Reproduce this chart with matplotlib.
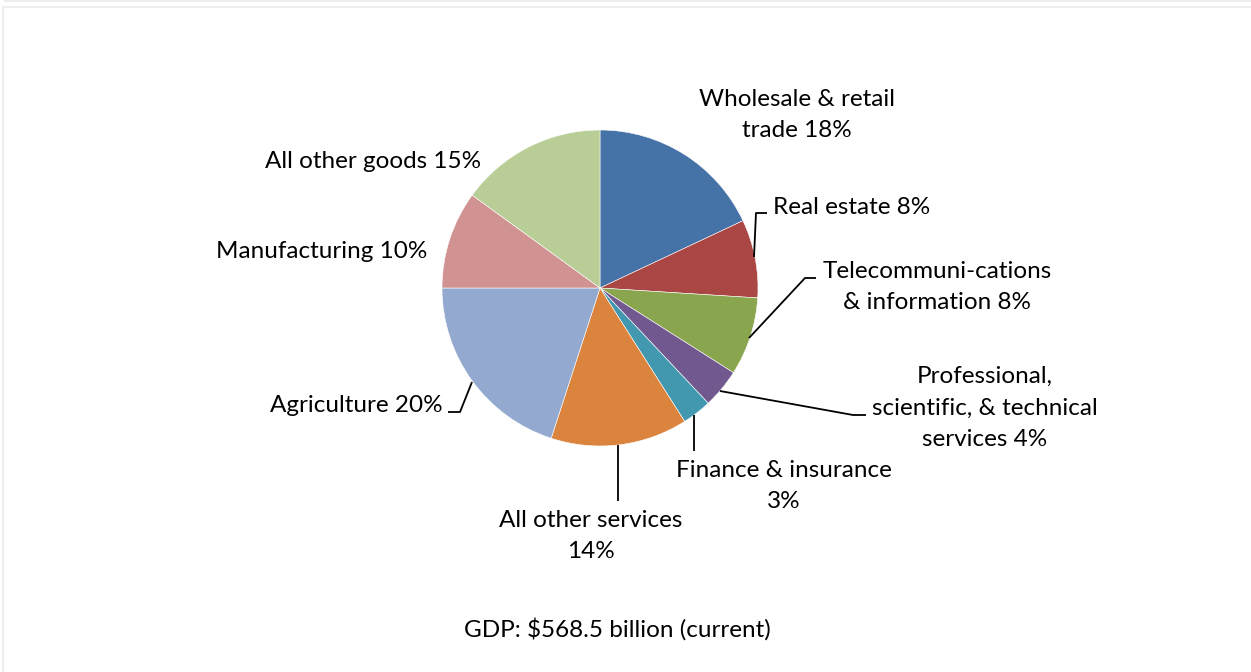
import numpy as np
import matplotlib
import matplotlib.pyplot as plt
from matplotlib.lines import Line2D

matplotlib.use('agg')

plt.rcParams['font.family'] = ['Lato', 'DejaVu Sans']

# GDP shares by sector (percent), clockwise from 12 o'clock
sectors = ['Wholesale & retail trade', 'Real estate', 'Telecommuni-cations & information',
           'Professional, scientific, & technical services', 'Finance & insurance',
           'All other services', 'Agriculture', 'Manufacturing', 'All other goods']
shares = [18, 8, 8, 4, 3, 14, 20, 10, 15]
colors = ['#4572A7', '#AA4643', '#89A54E', '#71588F', '#4198AF',
          '#DB843D', '#93A9CF', '#D19392', '#B9CD96']
label_text = [
    'Wholesale & retail\ntrade {}%',
    'Real estate {}%',
    'Telecommuni-cations\n& information {}%',
    'Professional,\nscientific, & technical\nservices {}%',
    'Finance & insurance\n{}%',
    'All other services\n{}%',
    'Agriculture {}%',
    'Manufacturing {}%',
    'All other goods {}%',
]
footnote = 'GDP: $568.5 billion (current)'

W, H = 1251, 672
fig = plt.figure(figsize=(W / 100, H / 100), dpi=100)
ax = fig.add_axes([0, 0, 1, 1])

cx, cy, r = 600, H - 288, 158
ax.pie(shares, colors=colors, startangle=90, counterclock=False,
       center=(cx, cy), radius=r,
       wedgeprops=dict(edgecolor='white', linewidth=0.4))

ax.set_xlim(0, W)
ax.set_ylim(0, H)
ax.set_aspect('equal')
ax.axis('off')

# label placement (x, y from top, alignment)
label_pos = [
    (797, 115, 'center'),
    (773, 208, 'left'),
    (937, 287, 'center'),
    (985, 408, 'center'),
    (784, 486, 'center'),
    (591, 536, 'center'),
    (443, 405, 'right'),
    (427, 252, 'right'),
    (481, 162, 'right'),
]
fs = 17.5
for txt, val, (x, y, ha) in zip(label_text, shares, label_pos):
    ax.text(x, H - y, txt.format(val), ha=ha, va='center', fontsize=fs,
            linespacing=1.62, color='black', multialignment='center')

# leader lines
leaders = [
    [(754, 257), (756, 213), (767, 213)],
    [(749, 338), (805, 278), (816, 278)],
    [(720, 391), (853, 415), (866, 415)],
    [(694, 415), (694, 451)],
    [(618, 445), (618, 501)],
    [(472, 382), (460, 412), (448, 412)],
]
for pts in leaders:
    xs = [p[0] for p in pts]
    ys = [H - p[1] for p in pts]
    ax.plot(xs, ys, color='black', lw=1.3, solid_capstyle='butt')

ax.text(617, H - 629, footnote, ha='center', va='center', fontsize=fs)

# outer frame
frame = '#EEEEEE'
fig.add_artist(Line2D([5 / W, 1], [1 - 0.5 / H, 1 - 0.5 / H], color=frame, lw=1.5))
fig.add_artist(Line2D([2.5 / W, 1], [1 - 7 / H, 1 - 7 / H], color=frame, lw=1.5))
fig.add_artist(Line2D([2.5 / W, 2.5 / W], [0, 1 - 7 / H], color=frame, lw=1.5))

fig.savefig('out.png', dpi=100)
